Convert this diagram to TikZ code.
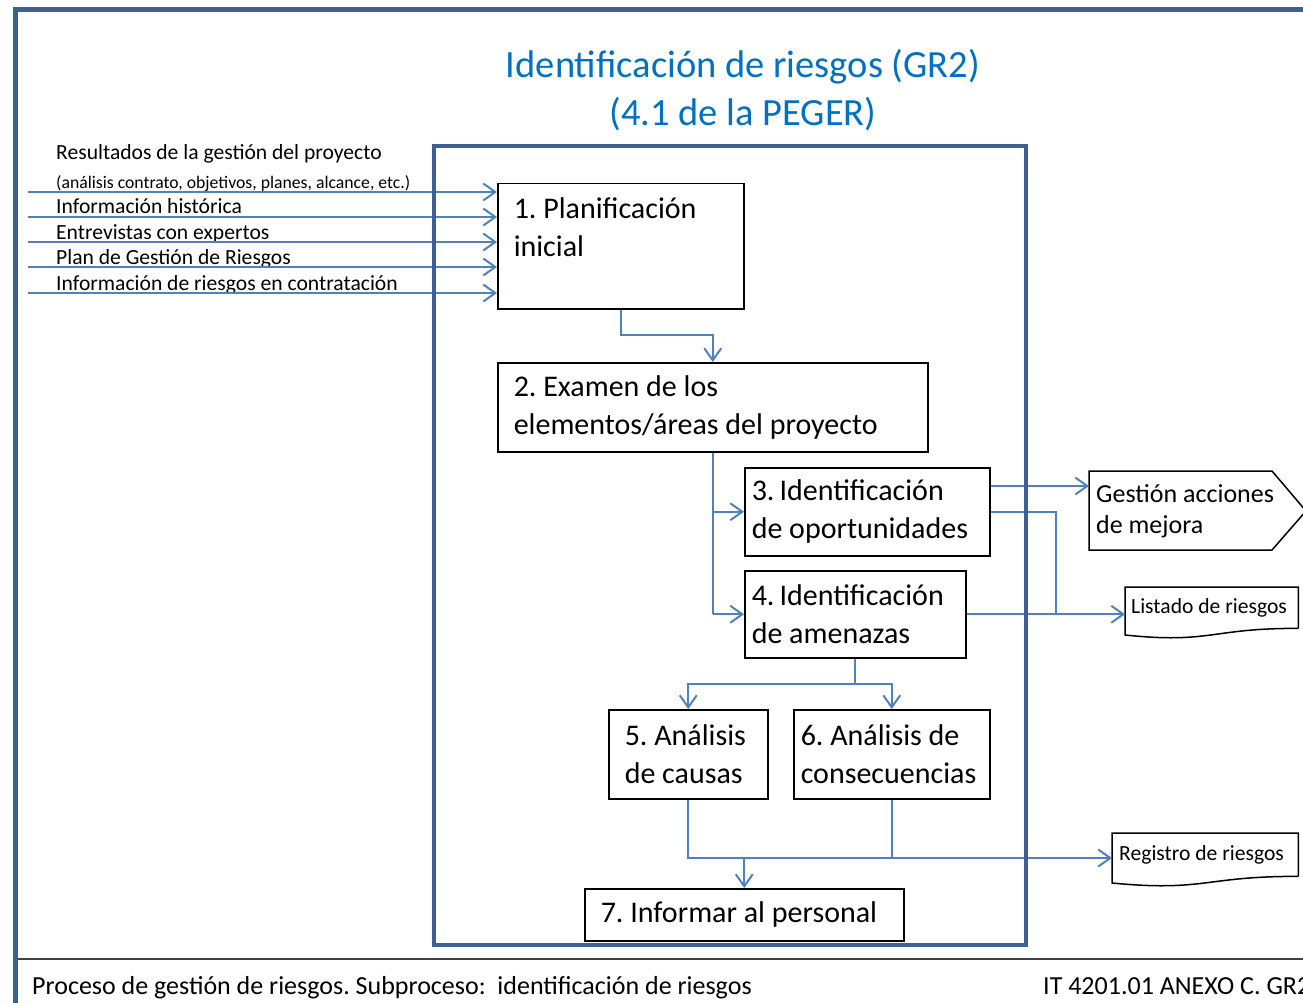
\documentclass[tikz,border=0pt]{standalone}
\usepackage{fontspec}
\setmainfont{Carlito}
\usetikzlibrary{arrows.meta}
\frenchspacing

\definecolor{framecol}{RGB}{61,96,145}
\definecolor{flowcol}{RGB}{79,129,189}
\definecolor{titlecol}{RGB}{0,112,192}

\begin{document}
\begin{tikzpicture}[x=1pt, y=-1pt,
    stepbox/.style={draw=black, line width=1.5pt, anchor=north west, align=flush left,
        inner ysep=0pt, font=\fontsize{30}{38}\selectfont},
    doclabel/.style={anchor=north west, align=flush left, inner xsep=6pt, inner ysep=0pt,
        font=\fontsize{21.6}{26}\selectfont},
    inlabel/.style={anchor=base west, inner sep=0pt, font=\fontsize{21.6}{26}\selectfont},
    flow/.style={draw=flowcol, line width=2pt},
    flowarrow/.style={flow, -{Straight Barb[length=12pt, width=17pt, line width=2pt]}}]

    \useasboundingbox (0,0) rectangle (1303,1003);

    % Draw the page frame
    \draw[framecol, line width=5pt] (15.5,1010) -- (15.5,9.5) -- (1310,9.5);
    \draw[black!75, line width=2pt] (18,959) -- (1310,959);

    % Title
    \node[titlecol, align=center, anchor=base, font=\fontsize{38.5}{48}\selectfont] (title) at (743,126)
        {Identificación de riesgos (GR2)\\(4.1 de la PEGER)};

    % Draw the process steps
    \node[stepbox, text width=214pt, inner xsep=16pt, minimum height=125pt] (plan) at (497,183)
        {1. Planificación\\inicial\\[-12pt]\strut};
    \node[stepbox, text width=398pt, inner xsep=16pt, minimum height=89pt] (examen) at (497,362)
        {2. Examen de los\\elementos/áreas del proyecto};
    \node[stepbox, text width=231pt, inner xsep=7pt, minimum height=88pt] (opor) at (744,467)
        {3.\,Identificación\\de oportunidades};
    \node[stepbox, text width=207pt, inner xsep=7pt, minimum height=87pt] (amen) at (744,570)
        {4.\,Identificación\\de amenazas};
    \node[stepbox, text width=127pt, inner xsep=16pt, minimum height=89pt] (causas) at (608,709)
        {5. Análisis\\de causas};
    \node[stepbox, text width=182pt, inner xsep=7pt, minimum height=89pt] (consec) at (793,709)
        {6. Análisis de\\consecuencias};
    \node[stepbox, text width=287pt, inner xsep=16pt, minimum height=52pt] (informar) at (584,888)
        {7. Informar al personal};

    % Draw the inputs
    \node[inlabel] (in0) at (56,160) {Resultados de la gestión del proyecto};
    \node[inlabel, font=\fontsize{17.7}{20}\selectfont] (in1) at (56,189)
        {(análisis contrato, objetivos, planes, alcance, etc.)};
    \foreach \y/\txt [count=\i from 2] in {217/Información histórica, 242/Entrevistas con expertos,
        267/Plan de Gestión de Riesgos, 293/Información de riesgos en contratación}
        \node[inlabel] (in\i) at (56,\y-3) {\txt};
    \foreach \y in {192,217,242,267,293} {
        \coordinate (src\y) at (28,\y);
        \draw[flowarrow] (src\y) -- (src\y -| plan.west);
    }

    % Draw the outputs
    \node[doclabel, anchor=west, inner xsep=7pt, font=\fontsize{26}{31}\selectfont] (mejora) at (1089,511)
        {Gestión acciones\\de mejora};
    \draw[line width=1.5pt] (1089,471) -- (1272,471) -- (1306,511) -- (1272,550) -- (1089,550) -- cycle;
    \coordinate (mejoraIn) at (1089,486);

    \node[doclabel, text width=161pt, minimum height=41pt] (listado) at (1125,587) {Listado de riesgos};
    \draw[line width=1.5pt] (listado.south east) -- (listado.north east) -- (listado.north west)
        -- (1125,635) .. controls (1211,644) and (1211,628) .. (listado.south east);

    \node[doclabel, inner xsep=7pt, text width=172pt, minimum height=43pt] (registro) at (1112,833) {Registro de riesgos};
    \draw[line width=1.5pt] (registro.south east) -- (registro.north east) -- (registro.north west)
        -- (1112,883) .. controls (1205,892) and (1205,876) .. (registro.south east);

    % Draw the flow between the steps
    \draw[flowarrow] (plan.south) -- (plan.south |- 0,335) -| (examen.north);
    \draw[flow] (examen.south) -- (examen.south |- amen.west);
    \draw[flowarrow] (examen.south |- opor.west) -- (opor.west);
    \draw[flowarrow] (examen.south |- amen.west) -- (amen.west);

    \draw[flowarrow] (opor.east |- mejoraIn) -- (mejoraIn);
    \coordinate (join) at (1056,0);
    \draw[flow] (opor.east) -| (join |- amen.east);
    \draw[flowarrow] (amen.east) -- (amen.east -| listado.west);

    \draw[flow] (amen.south) -- ++(0,25) coordinate (split);
    \draw[flowarrow] (split) -| (causas.north);
    \draw[flowarrow] (split) -| (consec.north);

    \coordinate (merge) at (0,858);
    \draw[flowarrow] (causas.south) |- (registro.west |- merge);
    \draw[flow] (consec.south) -- (consec.south |- merge);
    \draw[flowarrow] (informar.north |- merge) -- (informar.north);

    % Draw the subprocess frame
    \draw[framecol, line width=4.5pt] (434,146) rectangle (1026,945);

    % Footer
    \node[inlabel, font=\fontsize{26}{30}\selectfont] (foot) at (32,994)
        {Proceso de gestión de riesgos. Subproceso:\ \ identificación de riesgos};
    \node[inlabel, font=\fontsize{26}{30}\selectfont] (code) at (1043,994) {IT 4201.01 ANEXO C. GR2};
\end{tikzpicture}
\end{document}
